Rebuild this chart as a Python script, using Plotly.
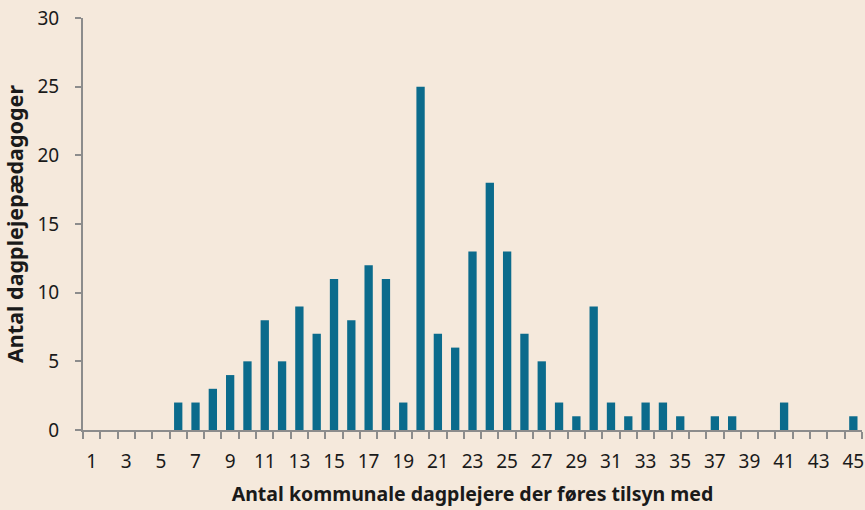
import plotly.graph_objects as go

categories = list(range(1, 46))
values = [0, 0, 0, 0, 0, 2, 2, 3, 4, 5,
          8, 5, 9, 7, 11, 8, 12, 11, 2, 25,
          7, 6, 13, 18, 13, 7, 5, 2, 1, 9,
          2, 1, 2, 2, 1, 0, 1, 1, 0, 0,
          2, 0, 0, 0, 1]
x_tick_labels = [str(c) for c in categories if c % 2 == 1]
y_ticks = [0, 5, 10, 15, 20, 25, 30]

bg = "#F5E9DC"
axis_col = "#8C8C8C"
font_family = "Noto Sans, Open Sans, sans-serif"

fig = go.Figure(go.Bar(
    x=categories, y=values, width=0.48,
    marker=dict(color="#0B6B8C", line=dict(width=0)),
))

fig.update_layout(
    width=865, height=510,
    paper_bgcolor=bg, plot_bgcolor=bg,
    margin=dict(l=83, r=3, t=18, b=80),
    font=dict(family=font_family, size=19, color="#1A1A1A"),
    showlegend=False,
)
fig.update_xaxes(
    range=[0.5, 45.5], automargin=False,
    tickvals=[c for c in categories if c % 2 == 1],
    ticktext=x_tick_labels,
    ticks="", showgrid=False, zeroline=False,
    showline=True, linecolor=axis_col, linewidth=2,
    ticklabelstandoff=13,
    minor=dict(tickvals=[c - 0.5 for c in categories] + [45.5], ticks="outside",
               ticklen=7, tickcolor=axis_col, tickwidth=2, showgrid=False),
    title=dict(text="<b>Antal kommunale dagplejere der føres tilsyn med</b>",
               font=dict(size=19.5), standoff=15),
)
fig.update_yaxes(
    range=[0, 30], tickvals=y_ticks, automargin=False,
    ticks="outside", ticklen=6, tickcolor=axis_col, tickwidth=2,
    showgrid=False, zeroline=False,
    showline=True, linecolor=axis_col, linewidth=2,
    ticklabelstandoff=12,
    title=dict(text="<b>Antal dagplejepædagoger</b>", font=dict(size=21.5), standoff=10),
)

fig.write_html("out.html", config={"displayModeBar": False},
               post_script="document.body.style.margin='0';document.body.style.background='%s';" % bg)
